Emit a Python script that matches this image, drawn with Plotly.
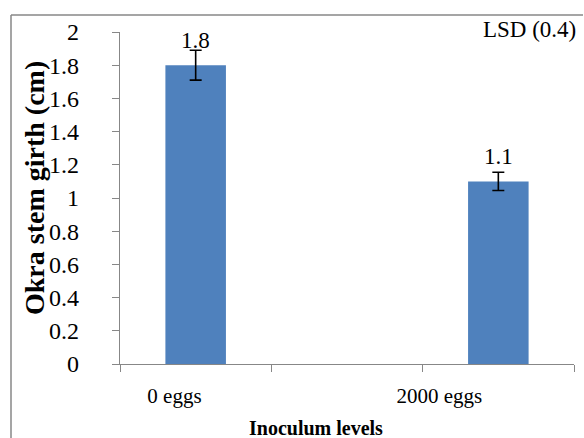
import plotly.graph_objects as go

categories = ["0 eggs", " ", "2000 eggs"]
girth = [1.8, None, 1.1]
errors = [0.09, None, 0.055]
label_pos = [-0.14, 1.61]
label_text = ["0 eggs", "2000 eggs"]
y_ticks = [0, 0.2, 0.4, 0.6, 0.8, 1, 1.2, 1.4, 1.6, 1.8, 2]

FONT = "Liberation Serif"
GREY = "#878787"

fig = go.Figure()
fig.add_trace(go.Bar(
    x=categories, y=girth, width=0.4,
    marker=dict(color="#4F81BD", line=dict(width=0)),
    error_y=dict(type="data", array=errors, visible=True,
                 color="black", thickness=1.6, width=6),
    showlegend=False, hoverinfo="skip",
))
# invisible trace to activate secondary x axis for labels
fig.add_trace(go.Scatter(x=label_pos, y=[0, 0], xaxis="x2", mode="markers",
                         marker=dict(opacity=0), showlegend=False, hoverinfo="skip"))

for c, v in zip(categories, girth):
    if v is not None:
        fig.add_annotation(x=c, y=v, text=f"{v:g}", showarrow=False,
                           yanchor="bottom", yshift=10,
                           font=dict(family=FONT, size=23, color="black"))

fig.add_annotation(text="LSD (0.4)", xref="paper", yref="paper",
                   x=(578 - 120) / 454, y=(364 - 29) / 332,
                   xanchor="right", yanchor="middle", showarrow=False,
                   font=dict(family=FONT, size=23, color="black"))
fig.add_annotation(text="<b>Inoculum levels</b>", xref="paper", yref="paper",
                   x=(316 - 120) / 454, y=(364 - 428) / 332,
                   xanchor="center", yanchor="middle", showarrow=False,
                   font=dict(family=FONT, size=20, color="black"))
fig.add_annotation(text="<b>Okra stem girth (cm)</b>", xref="paper", yref="paper",
                   x=(34 - 120) / 454, y=(364 - 188) / 332, textangle=-90,
                   xanchor="center", yanchor="middle", showarrow=False,
                   font=dict(family=FONT, size=28, color="black"))

# outer border (top and left only)
fig.add_shape(type="line", xref="paper", yref="paper",
              x0=(11 - 120) / 454, x1=(583 - 120) / 454,
              y0=(364 - 15) / 332, y1=(364 - 15) / 332,
              line=dict(color=GREY, width=1.5))
fig.add_shape(type="line", xref="paper", yref="paper",
              x0=(11 - 120) / 454, x1=(11 - 120) / 454,
              y0=(364 - 15) / 332, y1=(364 - 445) / 332,
              line=dict(color=GREY, width=1.5))

fig.update_layout(
    width=584, height=438,
    margin=dict(l=120, r=10, t=32, b=74),
    paper_bgcolor="white", plot_bgcolor="white",
    font=dict(family=FONT, size=22, color="black"),
    xaxis=dict(type="category", categoryorder="array", categoryarray=categories,
               range=[-0.5, 2.5], tickson="boundaries", ticks="outside",
               ticklen=7, tickcolor=GREY, showticklabels=False,
               showline=True, linecolor=GREY, linewidth=1.2,
               showgrid=False, zeroline=False, fixedrange=True),
    xaxis2=dict(overlaying="x", anchor="y", range=[-0.5, 2.5],
                tickmode="array", tickvals=label_pos, ticktext=label_text,
                ticks="", showline=False, showgrid=False, zeroline=False,
                ticklabelstandoff=17,
                tickfont=dict(family=FONT, size=21, color="black")),
    yaxis=dict(range=[0, 2], tickmode="array", tickvals=y_ticks,
               ticks="outside", ticklen=7, tickcolor=GREY,
               showline=True, linecolor=GREY, linewidth=1.2,
               showgrid=False, zeroline=False, ticklabelstandoff=28,
               tickfont=dict(family=FONT, size=24, color="black")),
)

fig.write_html("out.html", config={"displayModeBar": False},
               post_script="document.body.style.margin='0';document.body.style.overflow='hidden';")
